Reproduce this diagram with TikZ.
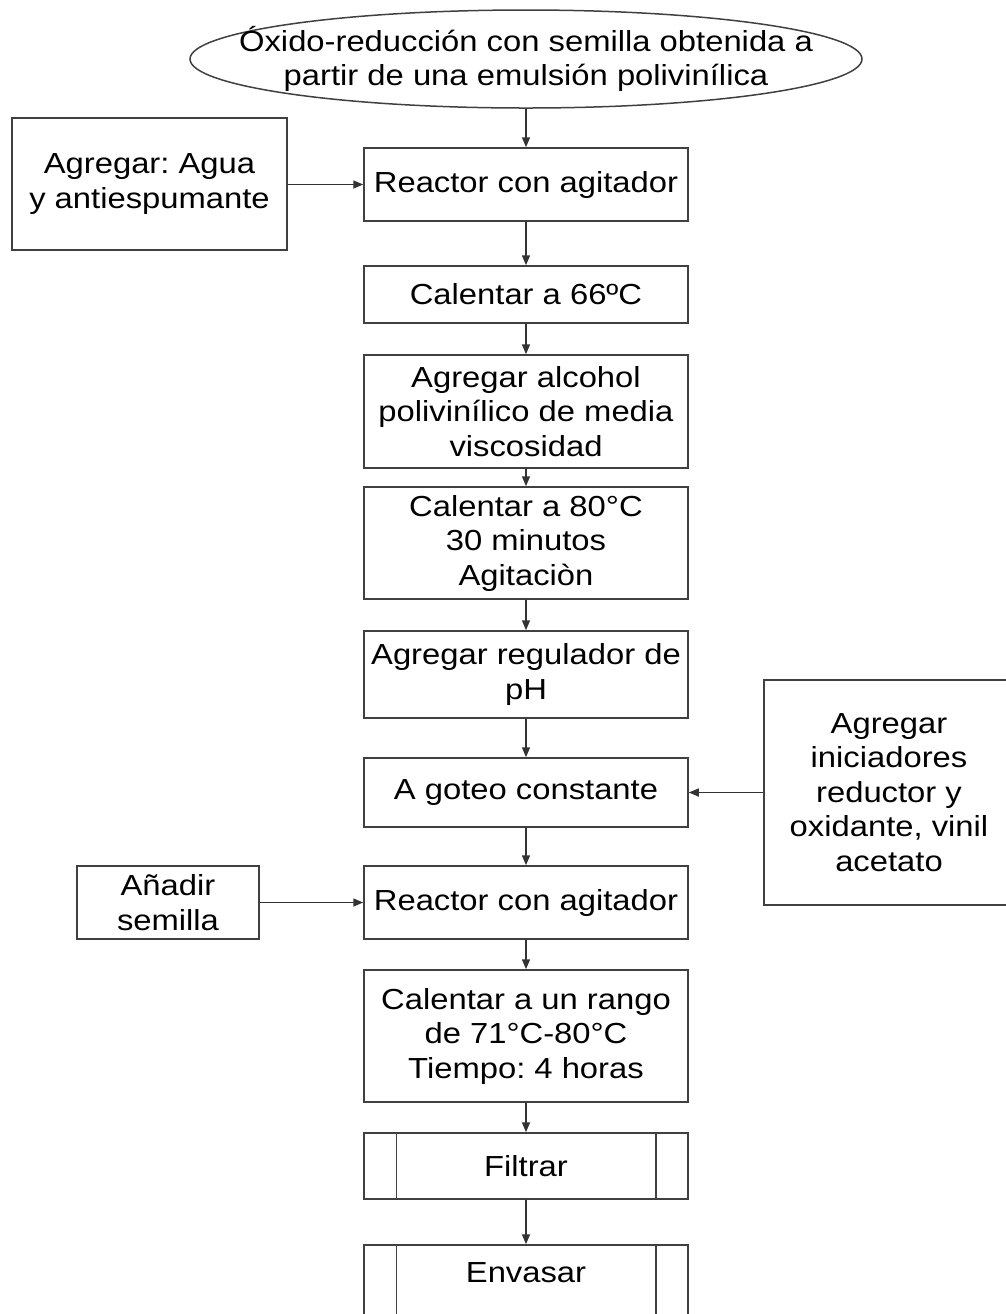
\documentclass[tikz,border=0pt]{standalone}
\usepackage{fontspec}
\setmainfont{Liberation Sans}[FakeStretch=1.13]
\usetikzlibrary{shapes.geometric,arrows.meta,positioning}
\newcommand\flowfont{\fontsize{14.5pt}{17.25pt}\selectfont\frenchspacing}

\begin{document}
\begin{tikzpicture}[x=0.5pt, y=-0.5pt,
  box/.style={rectangle, draw=black!75, line width=0.75pt,
              align=center, minimum width=162pt, inner sep=1pt, font=\flowfont},
  side/.style={box, minimum width=0pt},
  predef/.style={box},
  start/.style={ellipse, draw=black!75, line width=0.75pt, align=center,
                minimum width=336pt, minimum height=49pt,
                inner xsep=-28pt, inner ysep=0pt, font=\flowfont},
  arr/.style={-{Triangle[length=5pt,width=4pt]}, line width=0.75pt, black!80}]

  \useasboundingbox (0,0) rectangle (1006,1314);
  \clip (0,0) rectangle (1006,1314);

  \node[start] (emul) at (526,59) {Óxido-reducción con semilla obtenida a\\partir de una emulsión polivinílica};
  \node[box, minimum height=36.5pt] (reac1) at (526,184.5) {Reactor con agitador};
  \node[box, minimum height=28.5pt] (cal66) at (526,294.5) {Calentar a 66ºC};
  \node[box, minimum height=56.5pt] (alcohol) at (526,411.5) {Agregar alcohol\\polivinílico de media\\viscosidad};
  \node[box, minimum height=56pt] (cal80) at (526,543) {Calentar a 80°C\\30 minutos\\Agitaciòn};
  \node[box, minimum height=43.5pt] (ph) at (526,674.5) {Agregar regulador de\\pH};
  \node[box, minimum height=34.5pt] (goteo) at (526,792.5) {A goteo constante};
  \node[box, minimum height=36.5pt] (reac2) at (526,902.5) {Reactor con agitador};
  \node[box, minimum height=66pt] (cal71) at (526,1036) {Calentar a un rango\\de 71°C-80°C\\Tiempo: 4 horas};
  \node[predef, minimum height=33pt] (filtrar) at (526,1166) {Filtrar};
  \node[predef, minimum height=45pt, text depth=17pt] (envasar) at (526,1290) {Envasar};

  \node[side, minimum width=137.5pt, minimum height=66pt] (agua) at (149.5,184) {Agregar: Agua\\y antiespumante};
  \node[side, minimum width=91pt, minimum height=36.5pt] (semilla) at (168,902.5) {Añadir\\semilla};
  \node[side, minimum width=125pt, minimum height=112.5pt] (inic) at (889,792.5) {Agregar\\iniciadores\\reductor y\\oxidante, vinil\\acetato};

  % bordes internos de los subprocesos
  \foreach \n in {filtrar,envasar} {
    \draw[black!75, line width=0.75pt] ([xshift=16.5pt]\n.north west) -- ([xshift=16.5pt]\n.south west);
    \draw[black!75, line width=0.75pt] ([xshift=-16.5pt]\n.north east) -- ([xshift=-16.5pt]\n.south east);
  }

  \foreach \a/\b in {emul/reac1, reac1/cal66, cal66/alcohol, alcohol/cal80, cal80/ph,
                     ph/goteo, goteo/reac2, reac2/cal71, cal71/filtrar, filtrar/envasar}
    \draw[arr] (\a) -- (\b);
  \draw[arr] (agua.east |- reac1) -- (reac1);
  \draw[arr] (inic.west |- goteo) -- (goteo);
  \draw[arr] (semilla) -- (reac2);

\end{tikzpicture}
\end{document}
